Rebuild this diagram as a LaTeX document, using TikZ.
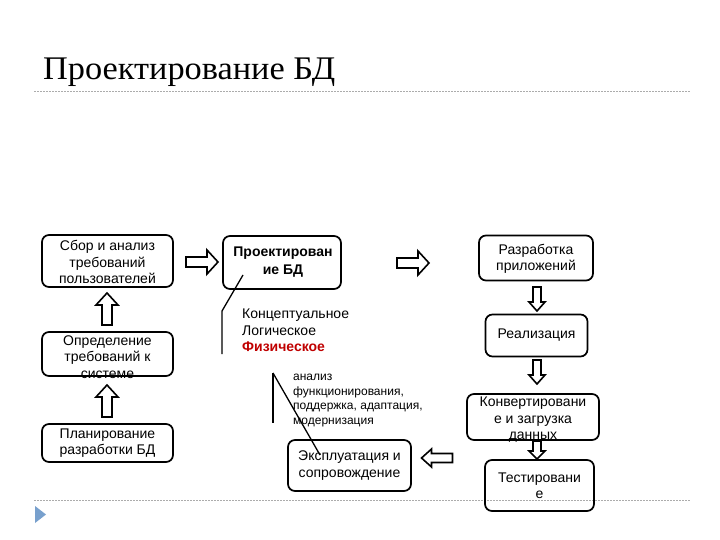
\documentclass[tikz,border=0pt]{standalone}
\usepackage{fontspec}
\setmainfont{Liberation Sans}
\newfontfamily\titlefont[FakeStretch=1.04]{Liberation Serif}
\definecolor{fizred}{RGB}{192,0,0}
\definecolor{bullet}{RGB}{120,160,205}
\tikzset{
  boxst/.style={draw=black, line width=1.7pt, rounded corners=7pt, minimum width=#1, inner sep=0pt},
  boxtxt/.style={font=\fontsize{14}{16.5}\selectfont, align=center, inner sep=0pt},
  arrowst/.style={draw=black, line width=1.6pt, fill=white, line join=miter},
  thinline/.style={draw=black, line width=1.3pt},
  pics/barrow/.style n args={4}{code={
    \draw[arrowst] ({-#1/2},{#2/2}) -- ({#1/2-#4},{#2/2}) -- ({#1/2-#4},{#3/2}) -- ({#1/2},0)
      -- ({#1/2-#4},{-#3/2}) -- ({#1/2-#4},{-#2/2}) -- ({-#1/2},{-#2/2}) -- cycle;}}
}
\begin{document}
\begin{tikzpicture}[x=1pt,y=-1pt]
\useasboundingbox (0,0) rectangle (720,540);
\fill[white] (0,0) rectangle (720,540);
% title
\node[anchor=base west, font=\titlefont\fontsize{33}{38}\selectfont, inner sep=0pt] (title) at (43,80) {Проектирование БД};
\draw[gray!65, line width=0.9pt, dash pattern=on 2pt off 1pt] (34,91) -- (690,91);
\draw[gray!65, line width=0.9pt, dash pattern=on 2pt off 1pt] (34,500) -- (690,500);
\fill[bullet] (35,506) -- (46,514.5) -- (35,523) -- cycle;
% left column
\node[boxst=131pt, minimum height=52pt] (b1) at (107.5,261) {};
\node[boxtxt] (t1) at (107.5,262) {Сбор и анализ\\требований\\пользователей};
\node[boxst=131pt, minimum height=44pt] (b2) at (107.5,354) {};
\node[boxtxt] (t2) at (107.5,357) {Определение\\требований к\\системе};
\node[boxst=131pt, minimum height=38pt] (b3) at (107.5,443) {};
\node[boxtxt] (t3) at (b3.center) {Планирование\\разработки БД};
% middle
\node[boxst=118pt, minimum height=53pt] (b4) at (282,262.5) {};
\node[boxtxt, font=\bfseries\fontsize{14}{17.5}\selectfont] (t4) at (283,262) {Проектирован\\ие БД};
\node[anchor=north west, align=left, inner sep=0pt, font=\fontsize{14}{16.5}\selectfont] (levels) at (242,309)
  {Концептуальное\\Логическое\\\textcolor{fizred}{\bfseries Физическое}};
\node[anchor=north west, align=left, inner sep=0pt, font=\fontsize{12}{14.5}\selectfont] (ops) at (293,374)
  {анализ\\функционирования,\\поддержка, адаптация,\\модернизация};
\node[boxst=123pt, minimum height=51pt] (b9) at (349.5,465.5) {};
\node[boxtxt] (t9) at (b9.center) {Эксплуатация и\\сопровождение};
% right column
\node[boxst=114pt, minimum height=45pt] (b5) at (536,258) {};
\node[boxtxt] (t5) at (536,259) {Разработка\\приложений};
\node[boxst=102pt, minimum height=42pt] (b6) at (536.5,335.5) {};
\node[boxtxt] (t6) at (b6.center) {Реализация};
\node[boxst=132pt, minimum height=46pt] (b7) at (533,417) {};
\node[boxtxt] (t7) at (533,420) {Конвертировани\\е и загрузка\\данных};
\node[boxst=109pt, minimum height=51pt] (b8) at (539.5,485.5) {};
\node[boxtxt] (t8) at (b8.center) {Тестировани\\е};
% lines
\coordinate (p1) at (243,275);
\coordinate (p2) at (222,311);
\coordinate (p3) at (222,354);
\draw[thinline] (p1) -- (p2) -- (p3);
\coordinate (q1) at (273,373);
\coordinate (q2) at (273,423);
\coordinate (q3) at (320,455);
\draw[thinline] (q1) -- (q2);
\draw[thinline] (q1) -- (q3);
% block arrows
\pic (a1) at (202,262) {barrow={32}{10}{24}{11}};
\pic (a2) at (413,263) {barrow={32}{10}{24}{11}};
\pic[rotate=90] (a3) at (107,309) {barrow={32}{10}{22}{12}};
\pic[rotate=90] (a4) at (107,401) {barrow={32}{10}{22}{12}};
\pic[rotate=-90] (a5) at (537,299) {barrow={24}{8}{16}{9}};
\pic[rotate=-90] (a6) at (537,372) {barrow={24}{8}{16}{9}};
\pic[rotate=-90] (a7) at (537,450) {barrow={18}{8}{16}{8}};
\pic[rotate=180] (a8) at (437,458) {barrow={31}{9}{18}{10}};
\end{tikzpicture}
\end{document}
